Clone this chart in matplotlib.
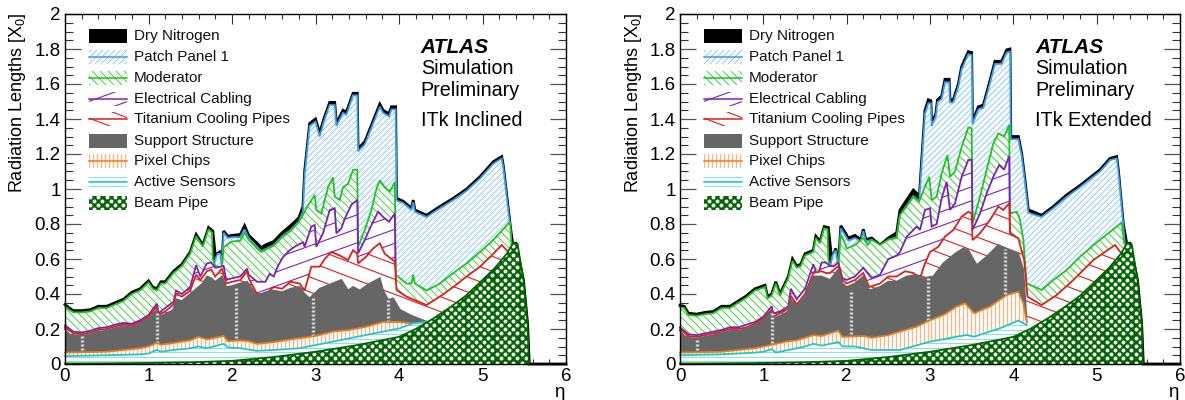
import numpy as np
import matplotlib
matplotlib.use('Agg')
import matplotlib.pyplot as plt
from matplotlib.collections import LineCollection
from matplotlib.patches import Polygon, Rectangle
from matplotlib.ticker import MultipleLocator

plt.rcParams['font.family'] = ['Liberation Sans', 'DejaVu Sans']
plt.rcParams['mathtext.default'] = 'regular'
plt.rcParams['mathtext.fontset'] = 'custom'
plt.rcParams['mathtext.rm'] = 'Liberation Sans'

# values: eta, cumulative top of each layer
beam_eta = [0, 0.5, 1, 1.5, 2, 2.5, 3, 3.5, 4, 4.2, 4.41, 4.6, 4.8, 5, 5.15, 5.29, 5.37, 5.42, 5.49, 5.54, 5.555]
beam_top = [0.003, 0.004, 0.006, 0.01, 0.018, 0.04, 0.07, 0.108, 0.155, 0.2, 0.26, 0.32, 0.39, 0.48, 0.55, 0.63, 0.693, 0.685, 0.48, 0.23, 0]

# ---- left panel, ITk Inclined
l_nit_eta = [0, 0.05, 0.1, 0.2, 0.3, 0.4, 0.5, 0.6, 0.7, 0.8, 0.9, 1.0, 1.05, 1.1, 1.15, 1.2, 1.3, 1.4, 1.5, 1.57, 1.65, 1.72, 1.77, 1.8, 1.85, 1.88, 1.9, 1.95, 2.0, 2.1, 2.15, 2.2, 2.3, 2.35, 2.4, 2.5, 2.6, 2.7, 2.8, 2.85, 2.87, 2.93, 3.0, 3.05, 3.1, 3.17, 3.23, 3.25, 3.33, 3.37, 3.45, 3.5, 3.51, 3.59, 3.67, 3.77, 3.81, 3.88, 3.91, 3.96, 3.97, 4.05, 4.15, 4.17, 4.19, 4.33, 4.49, 4.65, 4.81, 4.97, 5.13, 5.23, 5.25, 5.33, 5.36, 5.4, 5.49, 5.54, 5.56, 6]
l_nit_top = [0.34, 0.32, 0.305, 0.305, 0.31, 0.33, 0.33, 0.35, 0.37, 0.41, 0.43, 0.475, 0.44, 0.43, 0.47, 0.47, 0.53, 0.57, 0.64, 0.74, 0.68, 0.78, 0.76, 0.62, 0.64, 0.56, 0.76, 0.73, 0.735, 0.74, 0.79, 0.735, 0.69, 0.665, 0.68, 0.70, 0.75, 0.79, 0.835, 0.9, 1.1, 1.375, 1.4, 1.32, 1.4, 1.495, 1.495, 1.375, 1.45, 1.44, 1.547, 1.547, 1.23, 1.27, 1.365, 1.485, 1.45, 1.43, 1.47, 1.47, 0.947, 0.93, 0.89, 0.937, 0.88, 0.85, 0.9, 0.947, 1.0, 1.07, 1.156, 1.185, 1.13, 0.8, 0.69, 0.69, 0.48, 0.23, 0, 0]
l_pp_eta = [1.78, 1.8, 1.83, 1.86, 1.88, 1.9, 1.95, 2.0, 2.1, 2.15, 2.2, 2.3, 2.35, 2.5, 2.6, 2.7, 2.8, 2.85, 2.87, 2.93, 3.0, 3.05, 3.1, 3.17, 3.23, 3.25, 3.33, 3.37, 3.45, 3.5, 3.51, 3.59, 3.67, 3.77, 3.81, 3.88, 3.91, 3.96, 3.97, 4.05, 4.15, 4.17, 4.19, 4.33, 4.49, 4.65, 4.81, 4.97, 5.13, 5.23, 5.25, 5.33, 5.35]
l_pp_top = [0.56, 0.6, 0.63, 0.63, 0.55, 0.75, 0.72, 0.725, 0.725, 0.77, 0.72, 0.67, 0.645, 0.68, 0.73, 0.765, 0.815, 0.87, 1.08, 1.36, 1.385, 1.3, 1.385, 1.48, 1.48, 1.36, 1.435, 1.425, 1.535, 1.535, 1.215, 1.255, 1.35, 1.47, 1.435, 1.415, 1.455, 1.455, 0.935, 0.92, 0.88, 0.925, 0.87, 0.84, 0.89, 0.937, 0.99, 1.06, 1.145, 1.175, 1.12, 0.79, 0.66]
l_mod_eta = [0, 0.05, 0.1, 0.2, 0.3, 0.4, 0.5, 0.6, 0.7, 0.8, 0.9, 1.0, 1.05, 1.1, 1.15, 1.2, 1.3, 1.4, 1.5, 1.57, 1.65, 1.72, 1.76, 1.77, 1.8, 1.88, 1.9, 2.0, 2.1, 2.15, 2.2, 2.3, 2.35, 2.5, 2.6, 2.7, 2.8, 2.86, 2.89, 2.99, 3.01, 3.07, 3.15, 3.21, 3.23, 3.29, 3.33, 3.39, 3.45, 3.5, 3.51, 3.59, 3.67, 3.73, 3.77, 3.83, 3.89, 3.95, 3.96, 4.09, 4.15, 4.17, 4.19, 4.33, 4.49, 4.65, 4.81, 4.97, 5.13, 5.33, 5.35]
l_mod_top = [0.33, 0.31, 0.295, 0.295, 0.3, 0.32, 0.32, 0.34, 0.36, 0.4, 0.42, 0.465, 0.43, 0.42, 0.46, 0.46, 0.52, 0.56, 0.63, 0.73, 0.67, 0.77, 0.75, 0.6, 0.56, 0.55, 0.667, 0.7, 0.705, 0.75, 0.71, 0.66, 0.64, 0.676, 0.724, 0.76, 0.81, 0.86, 0.89, 0.966, 0.88, 0.86, 1.01, 1.067, 0.956, 0.937, 1.01, 1.03, 1.11, 1.11, 0.67, 0.766, 0.88, 1.0, 1.05, 1.01, 0.985, 1.04, 0.51, 0.46, 0.46, 0.51, 0.46, 0.42, 0.46, 0.52, 0.575, 0.64, 0.71, 0.813, 0.67]
l_cab_eta = [0, 0.1, 0.2, 0.3, 0.4, 0.5, 0.6, 0.7, 0.8, 0.9, 1.0, 1.1, 1.12, 1.2, 1.3, 1.33, 1.4, 1.5, 1.57, 1.62, 1.7, 1.75, 1.8, 1.9, 1.93, 2.0, 2.1, 2.18, 2.2, 2.3, 2.4, 2.45, 2.5, 2.55, 2.61, 2.69, 2.77, 2.85, 2.87, 2.95, 2.99, 3.01, 3.09, 3.17, 3.23, 3.25, 3.31, 3.35, 3.43, 3.5, 3.51, 3.59, 3.67, 3.75, 3.81, 3.88, 3.95, 3.96]
l_cab_top = [0.22, 0.185, 0.18, 0.19, 0.205, 0.21, 0.225, 0.235, 0.23, 0.25, 0.28, 0.345, 0.29, 0.32, 0.355, 0.42, 0.4, 0.44, 0.565, 0.5, 0.575, 0.58, 0.55, 0.56, 0.48, 0.49, 0.5, 0.545, 0.51, 0.47, 0.47, 0.515, 0.5, 0.56, 0.61, 0.65, 0.676, 0.695, 0.67, 0.785, 0.794, 0.67, 0.747, 0.88, 0.89, 0.747, 0.775, 0.83, 0.91, 0.937, 0.632, 0.709, 0.794, 0.87, 0.84, 0.813, 0.86, 0.42]
l_ti_eta = [0, 0.1, 0.2, 0.3, 0.4, 0.5, 0.6, 0.7, 0.8, 0.9, 1.0, 1.1, 1.12, 1.2, 1.3, 1.33, 1.4, 1.5, 1.57, 1.62, 1.7, 1.75, 1.8, 1.88, 1.93, 2.0, 2.1, 2.18, 2.2, 2.3, 2.4, 2.5, 2.6, 2.7, 2.81, 2.87, 2.95, 3.05, 3.11, 3.19, 3.29, 3.39, 3.45, 3.5, 3.51, 3.6, 3.69, 3.77, 3.83, 3.95, 3.97, 4.09, 4.33, 4.49, 4.65, 4.81, 4.97, 5.13, 5.23, 5.31]
l_ti_top = [0.21, 0.175, 0.17, 0.18, 0.195, 0.2, 0.215, 0.225, 0.22, 0.24, 0.27, 0.33, 0.28, 0.3, 0.34, 0.4, 0.385, 0.42, 0.51, 0.48, 0.53, 0.54, 0.5, 0.545, 0.46, 0.47, 0.48, 0.53, 0.49, 0.4, 0.4, 0.44, 0.43, 0.47, 0.46, 0.42, 0.556, 0.556, 0.6, 0.64, 0.62, 0.594, 0.65, 0.63, 0.575, 0.61, 0.66, 0.69, 0.63, 0.585, 0.423, 0.385, 0.337, 0.385, 0.44, 0.5, 0.556, 0.63, 0.68, 0.64]
l_sup_eta = [0, 0.05, 0.1, 0.2, 0.3, 0.4, 0.5, 0.6, 0.7, 0.8, 0.9, 1.0, 1.1, 1.12, 1.2, 1.3, 1.33, 1.4, 1.5, 1.6, 1.65, 1.7, 1.75, 1.8, 1.88, 1.93, 2.0, 2.1, 2.18, 2.3, 2.4, 2.5, 2.6, 2.7, 2.81, 2.87, 2.93, 3.05, 3.15, 3.31, 3.39, 3.45, 3.53, 3.65, 3.77, 3.81, 3.87, 3.93, 4.01, 4.17, 4.33]
l_sup_top = [0.2, 0.17, 0.165, 0.16, 0.17, 0.185, 0.19, 0.205, 0.215, 0.21, 0.23, 0.26, 0.31, 0.27, 0.285, 0.31, 0.37, 0.36, 0.4, 0.44, 0.46, 0.5, 0.49, 0.47, 0.5, 0.44, 0.445, 0.46, 0.47, 0.39, 0.41, 0.42, 0.41, 0.43, 0.44, 0.4, 0.375, 0.43, 0.45, 0.48, 0.42, 0.44, 0.42, 0.46, 0.49, 0.42, 0.366, 0.375, 0.31, 0.27, 0.24]
l_pix_eta = [0, 0.5, 0.9, 1.0, 1.1, 1.15, 1.3, 1.5, 1.6, 1.7, 1.9, 1.95, 2.1, 2.2, 2.3, 2.5, 2.7, 2.81, 3.0, 3.21, 3.41, 3.61, 3.81, 4.01, 4.17, 4.33]
l_pix_top = [0.065, 0.07, 0.09, 0.1, 0.12, 0.11, 0.12, 0.135, 0.155, 0.14, 0.16, 0.13, 0.135, 0.13, 0.115, 0.125, 0.14, 0.147, 0.16, 0.185, 0.195, 0.213, 0.24, 0.24, 0.23, 0.24]
l_act_eta = [0, 0.5, 0.9, 1.0, 1.1, 1.15, 1.3, 1.5, 1.6, 1.7, 1.9, 1.95, 2.1, 2.3, 2.5, 2.81, 3.21, 3.61, 4.01, 4.17, 4.33]
l_act_top = [0.045, 0.05, 0.055, 0.06, 0.08, 0.07, 0.08, 0.09, 0.1, 0.09, 0.115, 0.095, 0.09, 0.075, 0.08, 0.09, 0.128, 0.166, 0.204, 0.232, 0.24]
l_gap_eta = [0.2, 1.1, 2.05, 2.97, 3.87]
l_gap_low = [0.08, 0.12, 0.15, 0.16, 0.24]
l_gap_high = [0.16, 0.29, 0.44, 0.38, 0.37]

# ---- right panel, ITk Extended
r_nit_eta = [0, 0.05, 0.1, 0.2, 0.3, 0.4, 0.5, 0.6, 0.7, 0.8, 0.9, 1.02, 1.05, 1.1, 1.15, 1.2, 1.25, 1.3, 1.35, 1.4, 1.45, 1.5, 1.6, 1.63, 1.68, 1.73, 1.78, 1.82, 1.87, 1.9, 1.93, 1.97, 2.02, 2.1, 2.17, 2.2, 2.23, 2.3, 2.4, 2.5, 2.6, 2.64, 2.72, 2.8, 2.86, 2.87, 2.89, 2.94, 2.98, 3.01, 3.02, 3.07, 3.09, 3.14, 3.18, 3.23, 3.24, 3.28, 3.34, 3.38, 3.46, 3.5, 3.51, 3.58, 3.64, 3.72, 3.78, 3.86, 3.92, 3.96, 3.97, 4.06, 4.1, 4.14, 4.18, 4.24, 4.34, 4.48, 4.64, 4.8, 5.04, 5.16, 5.24, 5.26, 5.32, 5.36, 5.4, 5.49, 5.54, 5.56, 6]
r_nit_top = [0.335, 0.33, 0.29, 0.285, 0.295, 0.3, 0.33, 0.33, 0.36, 0.39, 0.43, 0.45, 0.385, 0.4, 0.47, 0.4, 0.45, 0.5, 0.6, 0.56, 0.57, 0.63, 0.65, 0.73, 0.7, 0.785, 0.78, 0.6, 0.66, 0.56, 0.79, 0.76, 0.72, 0.735, 0.71, 0.77, 0.71, 0.72, 0.68, 0.72, 0.75, 0.88, 0.937, 0.994, 0.966, 0.94, 1.09, 1.45, 1.51, 1.505, 1.375, 1.43, 1.51, 1.53, 1.627, 1.627, 1.51, 1.51, 1.6, 1.7, 1.785, 1.78, 1.385, 1.47, 1.48, 1.62, 1.73, 1.73, 1.795, 1.8, 1.3, 1.3, 1.204, 1.05, 0.88, 0.87, 0.85, 0.9, 0.966, 1.02, 1.11, 1.175, 1.185, 1.11, 0.8, 0.69, 0.69, 0.48, 0.23, 0, 0]
r_pp_eta = [1.8, 1.83, 1.87, 1.9, 1.93, 1.97, 2.02, 2.1, 2.17, 2.2, 2.23, 2.3, 2.4, 2.5, 2.6, 2.64, 2.72, 2.8, 2.87, 2.89, 2.94, 2.98, 3.01, 3.02, 3.07, 3.09, 3.14, 3.18, 3.23, 3.24, 3.28, 3.34, 3.38, 3.46, 3.5, 3.51, 3.58, 3.64, 3.72, 3.78, 3.86, 3.92, 3.96, 3.97, 4.06, 4.1, 4.14, 4.18, 4.24, 4.34, 4.48, 4.64, 4.8, 5.04, 5.16, 5.24, 5.26, 5.32, 5.34]
r_pp_top = [0.55, 0.62, 0.65, 0.55, 0.775, 0.745, 0.705, 0.72, 0.7, 0.76, 0.7, 0.71, 0.675, 0.71, 0.725, 0.85, 0.905, 0.96, 0.93, 1.07, 1.43, 1.49, 1.49, 1.36, 1.415, 1.495, 1.515, 1.61, 1.61, 1.495, 1.495, 1.585, 1.685, 1.77, 1.765, 1.37, 1.455, 1.465, 1.605, 1.715, 1.715, 1.78, 1.785, 1.285, 1.285, 1.19, 1.035, 0.865, 0.855, 0.84, 0.89, 0.955, 1.01, 1.1, 1.165, 1.175, 1.1, 0.79, 0.68]
r_mod_eta = [0, 0.05, 0.1, 0.2, 0.3, 0.4, 0.5, 0.6, 0.7, 0.8, 0.9, 1.02, 1.05, 1.1, 1.15, 1.2, 1.25, 1.3, 1.35, 1.4, 1.45, 1.5, 1.6, 1.63, 1.68, 1.73, 1.77, 1.78, 1.8, 1.9, 1.93, 1.97, 2.0, 2.1, 2.15, 2.2, 2.25, 2.3, 2.4, 2.5, 2.6, 2.64, 2.72, 2.8, 2.87, 2.94, 2.99, 3.02, 3.08, 3.14, 3.21, 3.24, 3.3, 3.38, 3.46, 3.5, 3.51, 3.6, 3.68, 3.76, 3.82, 3.89, 3.95, 3.96, 4.04, 4.08, 4.12, 4.16, 4.34, 4.48, 4.64, 4.8, 5.04, 5.3, 5.33]
r_mod_top = [0.325, 0.32, 0.28, 0.275, 0.285, 0.29, 0.32, 0.32, 0.35, 0.38, 0.42, 0.44, 0.375, 0.39, 0.46, 0.39, 0.44, 0.49, 0.59, 0.55, 0.56, 0.62, 0.64, 0.72, 0.69, 0.775, 0.77, 0.6, 0.55, 0.55, 0.74, 0.7, 0.66, 0.68, 0.7, 0.72, 0.68, 0.71, 0.68, 0.71, 0.72, 0.85, 0.9, 0.956, 0.928, 1.013, 1.07, 0.937, 0.956, 1.09, 1.194, 1.07, 1.1, 1.24, 1.352, 1.347, 0.804, 0.956, 1.11, 1.26, 1.318, 1.3, 1.366, 0.86, 0.87, 0.823, 0.71, 0.46, 0.423, 0.48, 0.537, 0.613, 0.71, 0.808, 0.69]
r_cab_eta = [0, 0.1, 0.2, 0.3, 0.4, 0.5, 0.6, 0.7, 0.8, 0.9, 1.0, 1.1, 1.12, 1.2, 1.3, 1.33, 1.4, 1.5, 1.6, 1.65, 1.7, 1.75, 1.8, 1.85, 1.9, 1.95, 2.0, 2.1, 2.2, 2.3, 2.4, 2.5, 2.6, 2.64, 2.72, 2.84, 2.88, 2.94, 3.0, 3.02, 3.08, 3.14, 3.2, 3.24, 3.3, 3.38, 3.46, 3.5, 3.51, 3.6, 3.68, 3.76, 3.83, 3.89, 3.95, 3.96]
r_cab_top = [0.21, 0.17, 0.165, 0.175, 0.185, 0.195, 0.21, 0.21, 0.225, 0.24, 0.27, 0.33, 0.29, 0.3, 0.33, 0.43, 0.37, 0.43, 0.57, 0.5, 0.58, 0.58, 0.56, 0.56, 0.58, 0.49, 0.48, 0.5, 0.55, 0.49, 0.51, 0.6, 0.62, 0.64, 0.727, 0.785, 0.766, 0.88, 0.89, 0.785, 0.8, 0.947, 1.04, 0.88, 0.918, 1.07, 1.166, 1.166, 0.766, 0.86, 0.975, 1.07, 1.137, 1.11, 1.19, 0.69]
r_ti_eta = [0, 0.1, 0.2, 0.3, 0.4, 0.5, 0.6, 0.7, 0.8, 0.9, 1.0, 1.1, 1.12, 1.2, 1.3, 1.33, 1.4, 1.5, 1.6, 1.7, 1.75, 1.8, 1.9, 1.95, 2.0, 2.1, 2.2, 2.27, 2.4, 2.5, 2.6, 2.7, 2.8, 2.88, 2.94, 3.0, 3.1, 3.18, 3.28, 3.38, 3.46, 3.5, 3.51, 3.6, 3.72, 3.82, 3.88, 3.95, 3.96, 4.06, 4.13, 4.17, 4.34, 4.52, 4.72, 4.96, 5.22, 5.3]
r_ti_top = [0.2, 0.16, 0.155, 0.165, 0.175, 0.185, 0.2, 0.2, 0.21, 0.23, 0.26, 0.31, 0.27, 0.29, 0.315, 0.39, 0.34, 0.4, 0.52, 0.53, 0.52, 0.52, 0.56, 0.48, 0.46, 0.48, 0.52, 0.44, 0.46, 0.5, 0.5, 0.53, 0.52, 0.49, 0.575, 0.64, 0.67, 0.728, 0.766, 0.842, 0.87, 0.86, 0.708, 0.747, 0.823, 0.9, 0.88, 0.918, 0.747, 0.718, 0.594, 0.385, 0.337, 0.394, 0.48, 0.594, 0.68, 0.63]
r_sup_eta = [0, 0.05, 0.1, 0.2, 0.3, 0.4, 0.5, 0.6, 0.7, 0.8, 0.9, 1.0, 1.1, 1.12, 1.2, 1.3, 1.33, 1.4, 1.5, 1.6, 1.7, 1.75, 1.8, 1.9, 1.95, 2.0, 2.1, 2.2, 2.27, 2.4, 2.5, 2.6, 2.72, 2.84, 2.9, 3.04, 3.16, 3.3, 3.4, 3.46, 3.56, 3.68, 3.82, 3.96, 4.06, 4.12, 4.16]
r_sup_top = [0.19, 0.16, 0.15, 0.145, 0.155, 0.165, 0.175, 0.19, 0.19, 0.2, 0.22, 0.25, 0.3, 0.26, 0.275, 0.3, 0.37, 0.325, 0.385, 0.5, 0.5, 0.49, 0.48, 0.54, 0.46, 0.44, 0.46, 0.5, 0.42, 0.44, 0.47, 0.47, 0.5, 0.51, 0.49, 0.5, 0.575, 0.63, 0.66, 0.65, 0.565, 0.613, 0.68, 0.65, 0.63, 0.537, 0.24]
r_pix_eta = [0, 0.5, 0.9, 1.0, 1.1, 1.2, 1.3, 1.4, 1.6, 1.7, 1.9, 1.95, 2.2, 2.3, 2.5, 2.64, 2.84, 3.0, 3.16, 3.32, 3.42, 3.53, 3.72, 3.92, 4.06, 4.12, 4.16]
r_pix_top = [0.065, 0.07, 0.09, 0.1, 0.11, 0.12, 0.13, 0.135, 0.165, 0.16, 0.19, 0.155, 0.16, 0.15, 0.165, 0.185, 0.213, 0.25, 0.28, 0.328, 0.347, 0.29, 0.328, 0.394, 0.413, 0.347, 0.24]
r_act_eta = [0, 0.5, 0.9, 1.0, 1.1, 1.15, 1.3, 1.5, 1.6, 1.7, 1.9, 1.95, 2.1, 2.3, 2.64, 3.0, 3.44, 3.53, 3.84, 4.06, 4.16]
r_act_top = [0.05, 0.055, 0.065, 0.07, 0.085, 0.065, 0.08, 0.1, 0.115, 0.105, 0.125, 0.1, 0.1, 0.08, 0.08, 0.128, 0.166, 0.156, 0.204, 0.248, 0.223]
r_gap_eta = [0.2, 1.1, 2.05, 2.97, 3.9]
r_gap_low = [0.08, 0.12, 0.17, 0.25, 0.4]
r_gap_high = [0.15, 0.29, 0.42, 0.49, 0.66]

legend_names = ['Dry Nitrogen', 'Patch Panel 1', 'Moderator', 'Electrical Cabling', 'Titanium Cooling Pipes',
                'Support Structure', 'Pixel Chips', 'Active Sensors', 'Beam Pipe']

W, H = 1185, 400
SX, SY = 501 / 6.0, 350 / 2.0  # pixels per eta, pixels per X0

# name: colour, hatch slope in pixels (None = no lines), spacing, line width
styles = {
    'Dry Nitrogen': dict(face='black', color='black'),
    'Patch Panel 1': dict(face='white', color='#3d9be9', hcolor='#7cc0ff', slope=1.0, step=6.0, lw=0.6),
    'Moderator': dict(face='white', color='#1fc41f', hcolor='#3ad43a', slope=-1.0, step=8.0, lw=0.7),
    'Electrical Cabling': dict(face='white', color='#7b22b4', hcolor='#7b22b4', slope=0.36, step=14, lw=0.8),
    'Titanium Cooling Pipes': dict(face='white', color='#dc1f1f', hcolor='#dc1f1f', slope=-0.38, step=15, lw=0.8),
    'Support Structure': dict(face='#666666', color='#666666'),
    'Pixel Chips': dict(face='white', color='#e08020', hcolor='#efbb8c', slope='v', step=4.0, lw=1.0),
    'Active Sensors': dict(face='white', color='#22c8c8', hcolor='#85e2e2', slope=0.0, step=4.5, lw=0.7),
    'Beam Pipe': dict(face='#006400', color='#006400', dots=True),
}


def add_hatch(ax, patch, st):
    # lines are worked out in pixels so that the angle is the real one, then clipped to the patch
    if st.get('dots'):
        gx, gy = [], []
        for row in range(0, 90):
            for col in range(0, 65):
                gx.append((col * 8.3 + (row % 2) * 4.15) / SX)
                gy.append((row * 4.15 + 1.5) / SY)
        d = ax.scatter(gx, gy, s=8, marker='o', c='white', linewidths=0, zorder=patch.get_zorder())
        d.set_clip_path(patch)
        return
    slope = st.get('slope')
    if slope is None:
        return
    segs = []
    if slope == 'v':
        for x in np.arange(0, 510, st['step']):
            segs.append([(x / SX, 0), (x / SX, 2)])
    else:
        for c in np.arange(-600, 600, st['step']):
            segs.append([(0, c / SY), (6, (c + slope * 6 * SX) / SY)])
    lc = LineCollection(segs, colors=st['hcolor'], linewidths=st['lw'], zorder=patch.get_zorder())
    ax.add_collection(lc, autolim=False)
    lc.set_clip_path(patch)


def add_layer(ax, x, y, name, z):
    st = styles[name]
    pts = [(x[0], 0)] + list(zip(x, y)) + [(x[-1], 0)]
    poly = Polygon(pts, closed=True, facecolor=st['face'], edgecolor='none', zorder=z)
    ax.add_patch(poly)
    add_hatch(ax, poly, st)
    lw = 2.0 if name == 'Dry Nitrogen' else 1.3
    ax.plot(x, y, color=st['color'], lw=lw, zorder=z, solid_joinstyle='miter', clip_on=False)


def draw_panel(ax, layers, gaps, tag):
    z = 2
    for x, y, name in layers:
        add_layer(ax, x, y, name, z)
        if name == 'Support Structure':
            ax.vlines(gaps[0], gaps[1], gaps[2], colors='#d8d8d8', lw=2.4, linestyles=(0, (0.6, 0.6)), zorder=z)
        z += 1

    # legend, drawn by hand like the ROOT one
    row_px = [36, 57, 78, 99, 119, 141, 161, 182, 203]
    for name, py in zip(legend_names, row_px):
        st = styles[name]
        y0 = (350 + 14 - py - 7) / SY
        box = Rectangle((24 / SX, y0), 38 / SX, 14 / SY, facecolor=st['face'], edgecolor='none', zorder=30)
        ax.add_patch(box)
        add_hatch(ax, box, st)
        if 'hcolor' in st:
            ax.plot([24 / SX, 62 / SX], [y0 + 7 / SY] * 2, color=st['color'], lw=1.1, zorder=31)
        ax.text(69 / SX, y0 + 7 / SY, name, fontsize=11, va='center', ha='left', color='#111111', zorder=31)

    tx = 4.26
    ax.text(tx, 1.81, 'ATLAS', fontsize=15, fontweight='bold', fontstyle='italic', va='center', zorder=31)
    ax.text(tx, 1.69, 'Simulation', fontsize=14.2, va='center', zorder=31)
    ax.text(tx, 1.56, 'Preliminary', fontsize=14.2, va='center', zorder=31)
    ax.text(tx, 1.39, tag, fontsize=14.2, va='center', zorder=31)

    ax.set_xlim(0, 6)
    ax.set_ylim(0, 2)
    ax.xaxis.set_major_locator(MultipleLocator(1))
    ax.xaxis.set_minor_locator(MultipleLocator(0.2))
    ax.yaxis.set_major_locator(MultipleLocator(0.2))
    ax.yaxis.set_minor_locator(MultipleLocator(0.05))
    ax.set_yticks(np.arange(0, 2.01, 0.2), ['0', '0.2', '0.4', '0.6', '0.8', '1', '1.2', '1.4', '1.6', '1.8', '2'])
    ax.tick_params(axis='x', which='major', direction='in', top=True, length=7.5, width=0.8, labelsize=13.5, pad=3, color='#333333')
    ax.tick_params(axis='x', which='minor', direction='in', top=True, length=3.8, width=0.8, color='#333333')
    ax.tick_params(axis='y', which='major', direction='in', right=True, length=11.5, width=0.9, labelsize=13.5, pad=3, color='#555555')
    ax.tick_params(axis='y', which='minor', direction='in', right=True, length=5.5, width=0.8, color='#333333')
    for s in ax.spines.values():
        s.set_linewidth(1.0)
        s.set_zorder(40)
    ax.text(5.98, -0.165, '\u03b7', fontsize=13.5, ha='right', va='center')


fig = plt.figure(figsize=(W / 100, H / 100), dpi=100)
ax1 = fig.add_axes([65 / W, 1 - 364 / H, 501 / W, 350 / H])
ax2 = fig.add_axes([680 / W, 1 - 364 / H, 500 / W, 350 / H])

draw_panel(ax1, [(l_nit_eta, l_nit_top, 'Dry Nitrogen'), (l_pp_eta, l_pp_top, 'Patch Panel 1'),
                 (l_mod_eta, l_mod_top, 'Moderator'), (l_cab_eta, l_cab_top, 'Electrical Cabling'),
                 (l_ti_eta, l_ti_top, 'Titanium Cooling Pipes'), (l_sup_eta, l_sup_top, 'Support Structure'),
                 (l_pix_eta, l_pix_top, 'Pixel Chips'), (l_act_eta, l_act_top, 'Active Sensors'),
                 (beam_eta, beam_top, 'Beam Pipe')], (l_gap_eta, l_gap_low, l_gap_high), 'ITk Inclined')
draw_panel(ax2, [(r_nit_eta, r_nit_top, 'Dry Nitrogen'), (r_pp_eta, r_pp_top, 'Patch Panel 1'),
                 (r_mod_eta, r_mod_top, 'Moderator'), (r_cab_eta, r_cab_top, 'Electrical Cabling'),
                 (r_ti_eta, r_ti_top, 'Titanium Cooling Pipes'), (r_sup_eta, r_sup_top, 'Support Structure'),
                 (r_pix_eta, r_pix_top, 'Pixel Chips'), (r_act_eta, r_act_top, 'Active Sensors'),
                 (beam_eta, beam_top, 'Beam Pipe')], (r_gap_eta, r_gap_low, r_gap_high), 'ITk Extended')

fig.text(18 / W, 1 - 12 / H, 'Radiation Lengths [X$_{0}$]', rotation=90, ha='center', va='top', fontsize=13)
fig.text(633 / W, 1 - 12 / H, 'Radiation Lengths [X$_{0}$]', rotation=90, ha='center', va='top', fontsize=13)

fig.savefig('out.png', dpi=100)
